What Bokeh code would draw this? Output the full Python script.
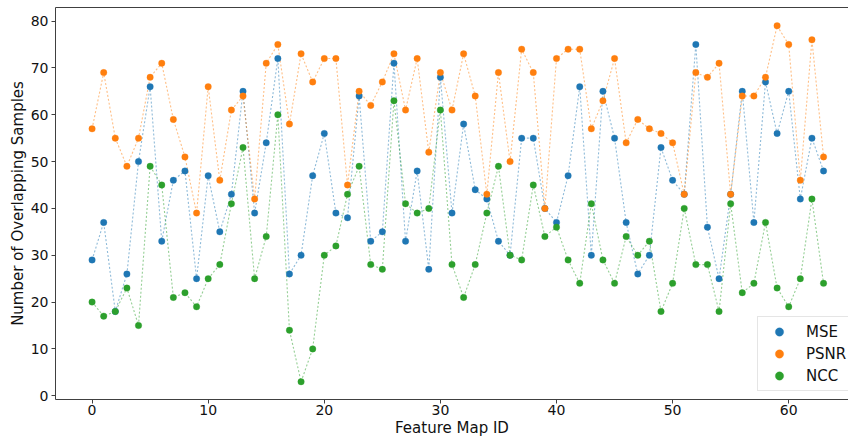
from bokeh.plotting import figure
from bokeh.models import Range1d, LinearAxis, FixedTicker, Legend, LegendItem, ColumnDataSource
from bokeh.embed import file_html
from bokeh.resources import INLINE

feature_ids = list(range(64))
mse = [29, 37, 18, 26, 50, 66, 33, 46, 48, 25, 47, 35, 43, 65, 39, 54,
       72, 26, 30, 47, 56, 39, 38, 64, 33, 35, 71, 33, 48, 27, 68, 39,
       58, 44, 42, 33, 30, 55, 55, 40, 37, 47, 66, 30, 65, 55, 37, 26,
       30, 53, 46, 43, 75, 36, 25, 43, 65, 37, 67, 56, 65, 42, 55, 48]
psnr = [57, 69, 55, 49, 55, 68, 71, 59, 51, 39, 66, 46, 61, 64, 42, 71,
        75, 58, 73, 67, 72, 72, 45, 65, 62, 67, 73, 61, 72, 52, 69, 61,
        73, 64, 43, 69, 50, 74, 69, 40, 72, 74, 74, 57, 63, 72, 54, 59,
        57, 56, 54, 43, 69, 68, 71, 43, 64, 64, 68, 79, 75, 46, 76, 51]
ncc = [20, 17, 18, 23, 15, 49, 45, 21, 22, 19, 25, 28, 41, 53, 25, 34,
       60, 14, 3, 10, 30, 32, 43, 49, 28, 27, 63, 41, 39, 40, 61, 28,
       21, 28, 39, 49, 30, 29, 45, 34, 36, 29, 24, 41, 29, 24, 34, 30,
       33, 18, 24, 40, 28, 28, 18, 41, 22, 24, 37, 23, 19, 25, 42, 24]

series_names = ["MSE", "PSNR", "NCC"]
series_values = [mse, psnr, ncc]
series_colors = ["#1f77b4", "#ff7f0e", "#2ca02c"]
x_ticks = [0, 10, 20, 30, 40, 50, 60]
y_ticks = [0, 10, 20, 30, 40, 50, 60, 70, 80]

FONT = "DejaVu Sans"

p = figure(width=848, height=441, output_backend="svg", toolbar_location=None,
           x_range=Range1d(-3.15, 65.15), y_range=Range1d(-0.8, 82.9),
           min_border_left=55, min_border_right=0, min_border_top=7, min_border_bottom=42)
p.outline_line_color = None
p.xgrid.visible = False
p.ygrid.visible = False
p.background_fill_color = "white"
p.border_fill_color = "white"

items = []
for name, vals, col in zip(series_names, series_values, series_colors):
    src = ColumnDataSource(dict(x=feature_ids, y=vals))
    p.line("x", "y", source=src, line_color=col, line_width=1.1, line_alpha=0.5, line_dash="2 2")
for name, vals, col in zip(series_names, series_values, series_colors):
    src = ColumnDataSource(dict(x=feature_ids, y=vals))
    r = p.scatter("x", "y", source=src, size=6.5, fill_color=col, line_color=col, line_width=0.3)
    items.append(LegendItem(label=name, renderers=[r]))

for ax in (p.xaxis[0], p.yaxis[0]):
    ax.axis_line_color = "#404040"
    ax.axis_line_width = 1
    ax.major_tick_line_color = "#404040"
    ax.major_tick_out = 4
    ax.major_tick_in = 0
    ax.minor_tick_line_color = None
    ax.major_label_text_font = FONT
    ax.major_label_text_font_size = "14px"
    ax.major_label_text_color = "#111111"
    ax.axis_label_text_font = FONT
    ax.axis_label_text_font_size = "15px"
    ax.axis_label_text_font_style = "normal"
    ax.axis_label_text_color = "#111111"

p.xaxis[0].ticker = FixedTicker(ticks=x_ticks)
p.yaxis[0].ticker = FixedTicker(ticks=y_ticks)
p.xaxis[0].axis_label = "Feature Map ID"
p.yaxis[0].axis_label = "Number of Overlapping Samples"
p.xaxis[0].major_label_standoff = 1
p.yaxis[0].major_label_standoff = 3
p.xaxis[0].axis_label_standoff = 1
p.yaxis[0].axis_label_standoff = 1

top = LinearAxis(ticker=FixedTicker(ticks=[]), axis_line_color="#404040", axis_line_width=1,
                 major_tick_out=0, major_tick_in=0, minor_tick_out=0, minor_tick_in=0,
                 major_label_text_font_size="0px")
p.add_layout(top, "above")

legend = Legend(items=items, location=(702, 8), orientation="vertical",
                padding=4, spacing=1, glyph_width=34, glyph_height=21, label_height=21,
                label_standoff=10, label_text_font=FONT, label_text_font_size="15px",
                label_text_color="#111111", border_line_color="#cccccc", border_line_width=1,
                background_fill_color="white", background_fill_alpha=0.85, margin=0)
p.add_layout(legend, "center")

open("out.html", "w").write(file_html(p, INLINE))
